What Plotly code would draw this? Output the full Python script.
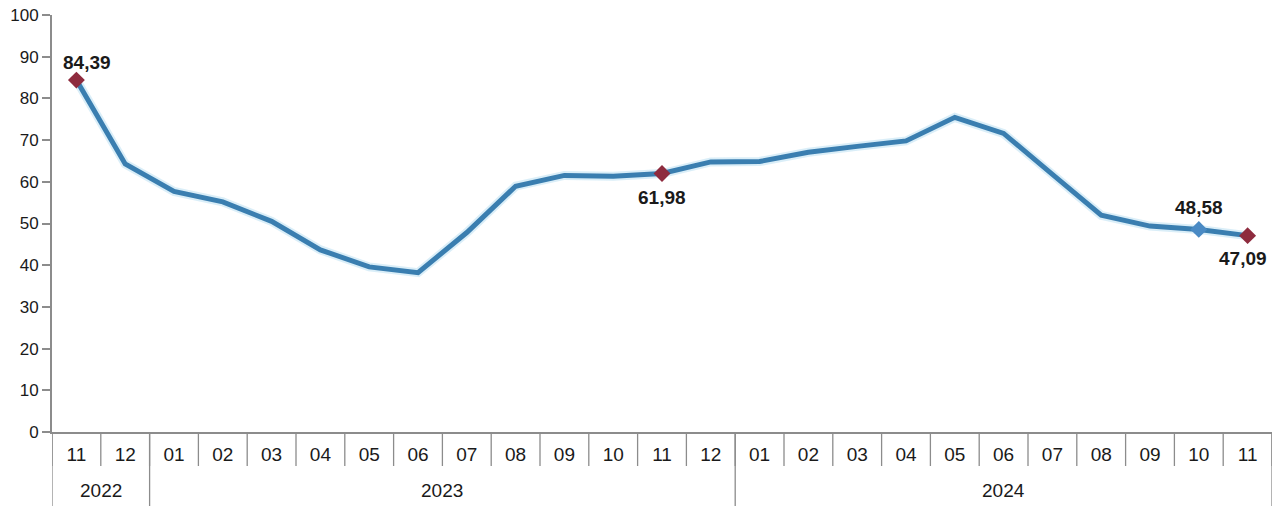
import plotly.graph_objects as go

months = ["11", "12", "01", "02", "03", "04", "05", "06", "07", "08", "09", "10", "11", "12",
          "01", "02", "03", "04", "05", "06", "07", "08", "09", "10", "11"]
years = ["2022", "2023", "2024"]
year_counts = [2, 12, 11]
values = [84.39, 64.27, 57.68, 55.18, 50.51, 43.68, 39.59, 38.21, 47.83, 58.94, 61.53, 61.36,
          61.98, 64.77, 64.86, 67.07, 68.50, 69.80, 75.45, 71.60, 61.78, 51.97, 49.38, 48.58, 47.09]
y_ticks = list(range(0, 101, 10))

x = list(range(len(values)))
red_idx = [0, 12, 24]
blue_idx = [23]

W, H = 1280, 506
ml, mr, mt = 52, 8, 15
mb = H - 432
ph = H - mt - mb

def py(p):  # page pixel row -> paper coordinate
    return (432 - p) / ph

line_col = "#3A7EB0"
red_col = "#8E2B3E"
gray = "#8C8C8C"
font = "Liberation Sans, Arial, sans-serif"

fig = go.Figure()
fig.add_trace(go.Scatter(x=x, y=values, mode="lines",
                         line=dict(color="rgba(150,205,235,0.35)", width=9),
                         hoverinfo="skip", showlegend=False))
fig.add_trace(go.Scatter(x=x, y=values, mode="lines",
                         line=dict(color=line_col, width=5),
                         showlegend=False))
fig.add_trace(go.Scatter(x=[x[i] for i in red_idx], y=[values[i] for i in red_idx], mode="markers",
                         marker=dict(symbol="diamond", size=13, color=red_col),
                         showlegend=False))
fig.add_trace(go.Scatter(x=[x[i] for i in blue_idx], y=[values[i] for i in blue_idx], mode="markers",
                         marker=dict(symbol="diamond", size=13, color="#4A8AC4"),
                         showlegend=False))

def fmt(v):
    return f"{v:.2f}".replace(".", ",")

label_pos = {0: (11, 18), 12: (0, -24), 23: (0, 22), 24: (-5, -23)}
for i, (dx, dy) in label_pos.items():
    fig.add_annotation(x=x[i], y=values[i], text=f"<b>{fmt(values[i])}</b>", showarrow=False,
                       xshift=dx, yshift=dy, font=dict(family=font, size=19, color="#1a1a1a"))

shapes = []
n = len(values)
for k in range(n + 1):
    shapes.append(dict(type="line", xref="x", yref="paper", x0=k - 0.5, x1=k - 0.5,
                       y0=0, y1=py(466), line=dict(color=gray, width=1.3)))
pos = -0.5
bounds = [pos]
for c in year_counts:
    pos += c
    bounds.append(pos)
for b in bounds:
    shapes.append(dict(type="line", xref="x", yref="paper", x0=b, x1=b,
                       y0=0, y1=py(H), line=dict(color=gray, width=1.3)))
fig.update_layout(shapes=shapes)

start = -0.5
for yr, c in zip(years, year_counts):
    fig.add_annotation(x=start + c / 2, y=py(490), xref="x", yref="paper", text=yr,
                       yanchor="middle", xanchor="center",
                       showarrow=False, font=dict(family=font, size=19, color="#1a1a1a"))
    start += c

fig.update_layout(
    width=W, height=H,
    margin=dict(l=ml, r=mr, t=mt, b=mb, autoexpand=False),
    paper_bgcolor="white", plot_bgcolor="white",
    xaxis=dict(range=[-0.5, n - 0.5], tickvals=x, ticktext=months, ticks="",
               showline=True, linecolor=gray, linewidth=2, showgrid=False, zeroline=False,
               automargin=False,
               tickfont=dict(family=font, size=19, color="#1a1a1a"), ticklabelstandoff=4),
    yaxis=dict(range=[0, 100], tickvals=y_ticks, ticks="outside", ticklen=8, tickcolor=gray,
               tickwidth=1.5, showline=True, linecolor=gray, linewidth=2, showgrid=False,
               zeroline=False, automargin=False, ticklabeloverflow="allow",
               tickfont=dict(family=font, size=17, color="#1a1a1a")),
)

fig.write_html("out.html", config={"displayModeBar": False},
               post_script="document.body.style.margin='0px';document.body.style.overflow='hidden';")
